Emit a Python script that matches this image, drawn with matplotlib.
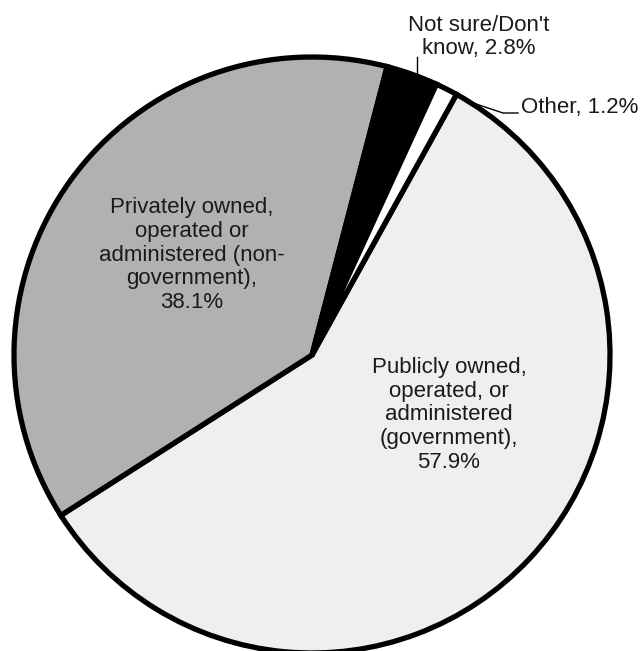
import matplotlib.pyplot as plt

labels = ["Publicly owned,\noperated, or\nadministered\n(government),\n57.9%",
          "Privately owned,\noperated or\nadministered (non-\ngovernment),\n38.1%",
          "Not sure/Don't\nknow, 2.8%",
          "Other, 1.2%"]
shares = [57.9, 38.1, 2.8, 1.2]
colors = ["#efefef", "#b1b1b1", "#000000", "#ffffff"]

plt.rcParams['font.family'] = ['Liberation Sans', 'DejaVu Sans']

fig = plt.figure(figsize=(6.41, 6.51), dpi=100)
ax = fig.add_axes([0, 0, 1, 1])

# pixel-like coordinates, y measured from the bottom
cx, cy, r = 312, 651 - 355, 298
ax.pie(shares, colors=colors, startangle=61, counterclock=False,
       center=(cx, cy), radius=r, frame=True,
       wedgeprops=dict(edgecolor='black', linewidth=3.8, joinstyle='miter'))
ax.set_xlim(0, 641)
ax.set_ylim(0, 651)
ax.set_aspect('equal')
ax.axis('off')

fs = 16
ax.text(449, 651 - 415, labels[0], ha='center', va='center', fontsize=fs,
        linespacing=1.18, color='#1a1a1a')
ax.text(192, 651 - 255, labels[1], ha='center', va='center', fontsize=fs,
        linespacing=1.18, color='#1a1a1a')
ax.text(479, 651 - 37, labels[2], ha='center', va='center', fontsize=fs,
        linespacing=1.1, color='#1a1a1a')
ax.text(521, 651 - 107, labels[3], ha='left', va='center', fontsize=fs,
        color='#1a1a1a')

# leader lines for the two thin slices
ax.plot([417, 417], [651 - 57, 651 - 76], color='black', lw=1)
ax.plot([473, 503, 518], [651 - 103, 651 - 113, 651 - 113], color='black', lw=1)

fig.savefig('out.png', dpi=100)
